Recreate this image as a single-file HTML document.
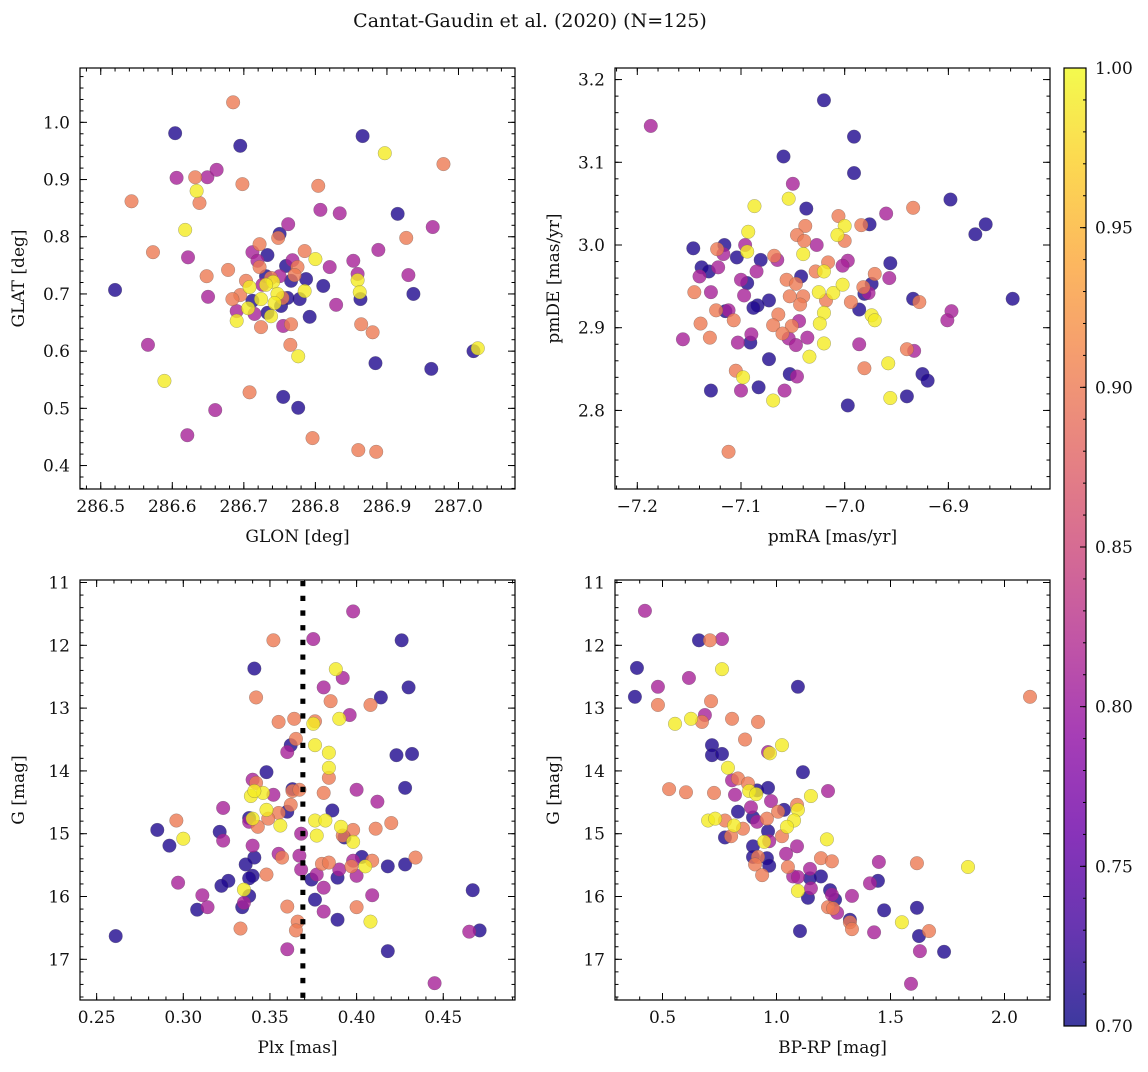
<!DOCTYPE html>
<html><head><meta charset="utf-8"><style>
html,body{margin:0;padding:0;background:#fff;}
svg text{font-family:"DejaVu Serif","Liberation Serif",serif;fill:#111;}
</style></head><body>
<svg id="fig" width="1148" height="1067" viewBox="0 0 1148 1067" xmlns="http://www.w3.org/2000/svg">
<defs>
<linearGradient id="plasma" x1="0" y1="1" x2="0" y2="0">
<stop offset="0" stop-color="#0d0887"/><stop offset="0.1" stop-color="#41049d"/><stop offset="0.2" stop-color="#6a00a8"/><stop offset="0.3" stop-color="#8f0da4"/><stop offset="0.4" stop-color="#b12a90"/><stop offset="0.5" stop-color="#cc4778"/><stop offset="0.6" stop-color="#e16462"/><stop offset="0.7" stop-color="#f2844b"/><stop offset="0.8" stop-color="#fca636"/><stop offset="0.9" stop-color="#fcce25"/><stop offset="1" stop-color="#f0f921"/>
</linearGradient>
</defs>
<text x="530" y="27" font-size="19" text-anchor="middle">Cantat-Gaudin et al. (2020) (N=125)</text>
</svg>
<script>
// ---- Panel 1: GLON vs GLAT ----
const p1Lon=[286.685,286.604,286.695,286.866,286.897,286.979,286.606,286.632,286.649,286.662,286.698,286.634,286.804,286.543,286.638,286.807,286.834,286.915,286.964,286.618,286.927,286.762,286.750,286.748,286.722,286.888,286.573,286.622,286.712,286.733,286.785,286.800,286.853,286.820,286.678,286.648,286.930,286.859,286.859,286.787,286.811,286.862,286.863,286.520,286.937,286.650,286.785,286.778,286.829,286.792,286.864,286.880,286.766,286.755,286.724,286.765,286.776,286.566,287.021,287.027,286.884,286.962,286.589,286.708,286.755,286.776,286.660,286.621,286.796,286.860,286.885,286.708,286.724,286.741,286.747,286.731,286.706,286.690,286.738,286.743,286.703,286.695,286.684,286.722,286.775,286.771,286.738,286.754,286.690,286.715,286.719,286.768,286.750,286.726,286.759,286.766,286.731,286.712,286.752,286.733,286.761];
const p1Lat=[1.035,0.981,0.959,0.976,0.946,0.927,0.903,0.904,0.904,0.917,0.892,0.880,0.889,0.862,0.859,0.847,0.841,0.840,0.817,0.812,0.798,0.822,0.805,0.798,0.787,0.777,0.773,0.764,0.773,0.768,0.775,0.761,0.758,0.747,0.742,0.731,0.733,0.735,0.724,0.726,0.714,0.703,0.691,0.707,0.700,0.695,0.705,0.691,0.681,0.660,0.647,0.633,0.647,0.644,0.642,0.611,0.591,0.611,0.600,0.605,0.579,0.569,0.548,0.528,0.520,0.501,0.497,0.453,0.448,0.427,0.424,0.712,0.691,0.721,0.700,0.716,0.675,0.653,0.661,0.684,0.723,0.698,0.691,0.747,0.747,0.733,0.728,0.693,0.670,0.665,0.758,0.759,0.731,0.716,0.749,0.723,0.731,0.688,0.679,0.667,0.693];
const p1Prob=[0.90,0.71,0.71,0.71,0.99,0.90,0.81,0.90,0.81,0.81,0.90,0.99,0.90,0.90,0.90,0.81,0.81,0.71,0.81,0.99,0.90,0.81,0.71,0.90,0.90,0.81,0.90,0.81,0.81,0.71,0.90,0.99,0.81,0.81,0.90,0.90,0.81,0.81,0.99,0.71,0.71,0.99,0.71,0.71,0.71,0.81,0.99,0.71,0.81,0.71,0.90,0.90,0.90,0.81,0.90,0.90,0.99,0.81,0.71,0.99,0.71,0.71,0.99,0.90,0.71,0.71,0.81,0.81,0.90,0.90,0.90,0.99,0.99,0.99,0.99,0.99,0.99,0.99,0.99,0.99,0.90,0.90,0.90,0.90,0.90,0.90,0.90,0.90,0.81,0.81,0.81,0.81,0.81,0.81,0.71,0.71,0.71,0.71,0.71,0.71,0.71];
const p1XTicks=[286.5,286.6,286.7,286.8,286.9,287.0];
const p1XLabels=["286.5","286.6","286.7","286.8","286.9","287.0"];
const p1YTicks=[0.4,0.5,0.6,0.7,0.8,0.9,1.0];
const p1YLabels=["0.4","0.5","0.6","0.7","0.8","0.9","1.0"];
// ---- Panel 2: pmRA vs pmDE ----
const p2RA=[-7.187,-7.020,-6.991,-7.059,-6.991,-7.050,-7.054,-7.087,-7.037,-6.898,-6.934,-6.960,-7.006,-7.000,-6.984,-6.976,-6.864,-6.874,-7.093,-7.038,-7.046,-7.039,-7.007,-7.000,-7.027,-7.146,-7.116,-7.123,-7.117,-7.096,-7.094,-7.104,-7.081,-7.068,-7.065,-7.040,-7.138,-7.131,-7.122,-7.140,-7.085,-7.028,-7.020,-7.016,-6.997,-7.002,-6.956,-6.971,-6.957,-7.042,-7.100,-7.094,-7.056,-7.047,-7.145,-7.129,-7.097,-7.073,-7.084,-7.088,-7.053,-7.040,-7.043,-7.025,-7.011,-7.002,-7.018,-6.994,-6.982,-6.977,-6.981,-6.974,-6.986,-6.934,-6.928,-6.838,-6.897,-6.901,-7.124,-7.115,-7.112,-7.107,-7.139,-7.130,-7.156,-7.064,-7.069,-7.051,-7.044,-7.060,-7.054,-7.047,-7.036,-7.020,-7.024,-7.020,-6.974,-6.971,-6.986,-7.103,-7.090,-7.091,-7.073,-7.034,-6.940,-6.933,-6.958,-6.981,-6.925,-6.920,-7.105,-7.098,-7.053,-7.046,-7.129,-7.100,-7.083,-7.058,-7.069,-6.956,-6.940,-6.997,-7.112];
const p2DE=[3.144,3.175,3.131,3.107,3.087,3.074,3.056,3.047,3.044,3.055,3.045,3.038,3.035,3.023,3.024,3.025,3.025,3.013,3.016,3.023,3.012,3.005,3.012,3.005,3.000,2.996,3.000,2.995,2.989,3.000,2.992,2.985,2.982,2.987,2.982,2.989,2.973,2.968,2.973,2.962,2.968,2.968,2.968,2.979,2.981,2.975,2.978,2.965,2.960,2.962,2.958,2.954,2.958,2.953,2.943,2.943,2.939,2.933,2.927,2.924,2.938,2.938,2.928,2.943,2.942,2.952,2.933,2.931,2.949,2.942,2.941,2.953,2.922,2.935,2.931,2.935,2.920,2.909,2.921,2.920,2.921,2.909,2.905,2.888,2.886,2.916,2.903,2.902,2.908,2.893,2.887,2.879,2.888,2.918,2.905,2.881,2.915,2.909,2.880,2.882,2.892,2.882,2.862,2.865,2.874,2.872,2.857,2.851,2.844,2.836,2.848,2.840,2.844,2.841,2.824,2.824,2.828,2.824,2.812,2.815,2.817,2.806,2.750];
const p2Prob=[0.81,0.71,0.71,0.71,0.71,0.81,0.99,0.99,0.71,0.71,0.90,0.81,0.90,0.99,0.90,0.71,0.71,0.71,0.99,0.90,0.90,0.90,0.99,0.90,0.81,0.71,0.71,0.90,0.81,0.81,0.99,0.71,0.71,0.90,0.81,0.99,0.71,0.71,0.81,0.81,0.81,0.90,0.99,0.90,0.81,0.81,0.71,0.90,0.81,0.71,0.81,0.71,0.90,0.90,0.90,0.81,0.81,0.71,0.71,0.71,0.90,0.90,0.90,0.99,0.99,0.99,0.90,0.90,0.90,0.81,0.71,0.71,0.71,0.71,0.90,0.71,0.81,0.81,0.90,0.71,0.81,0.90,0.90,0.90,0.81,0.90,0.90,0.90,0.81,0.90,0.81,0.81,0.81,0.99,0.99,0.99,0.99,0.99,0.81,0.81,0.81,0.71,0.71,0.99,0.90,0.81,0.99,0.90,0.71,0.71,0.90,0.99,0.71,0.81,0.71,0.81,0.71,0.81,0.99,0.99,0.71,0.71,0.90];
const p2XTicks=[-7.2,-7.1,-7.0,-6.9];
const p2XLabels=["\u22127.2","\u22127.1","\u22127.0","\u22126.9"];
const p2YTicks=[2.8,2.9,3.0,3.1,3.2];
const p2YLabels=["2.8","2.9","3.0","3.1","3.2"];
// ---- Panel 3: Plx vs G ----
const p3Plx=[.398,.352,.375,.426,.341,.388,.392,.381,.430,.342,.414,.385,.408,.396,.390,.355,.364,.376,.375,.365,.362,.360,.376,.384,.423,.432,.384,.384,.348,.340,.342,.428,.400,.381,.363,.367,.363,.339,.346,.341,.352,.323,.412,.348,.355,.360,.362,.386,.296,.338,.338,.340,.349,.343,.356,.376,.382,.420,.285,.391,.398,.411,.321,.368,.377,.392,.393,.300,.323,.398,.292,.340,.341,.355,.357,.367,.403,.434,.380,.384,.398,.409,.336,.418,.428,.405,.397,.390,.368,.348,.340,.338,.377,.389,.400,.374,.326,.322,.297,.381,.335,.338,.311,.409,.467,.376,.335,.334,.308,.314,.360,.400,.381,.408,.389,.366,.365,.333,.261,.465,.471,.360,.418,.445];
const p3G=[11.46,11.92,11.90,11.92,12.37,12.38,12.52,12.67,12.67,12.83,12.83,12.89,12.95,13.11,13.17,13.22,13.17,13.21,13.25,13.49,13.59,13.70,13.59,13.71,13.75,13.73,13.95,14.11,14.02,14.14,14.19,14.27,14.30,14.35,14.32,14.30,14.29,14.40,14.35,14.32,14.38,14.59,14.49,14.62,14.67,14.65,14.54,14.63,14.79,14.75,14.81,14.76,14.76,14.89,14.87,14.79,14.79,14.83,14.94,14.89,14.94,14.92,14.97,15.00,15.03,15.03,15.06,15.08,15.11,15.13,15.19,15.19,15.38,15.32,15.38,15.35,15.37,15.38,15.48,15.46,15.43,15.43,15.49,15.52,15.49,15.52,15.52,15.57,15.57,15.65,15.67,15.71,15.65,15.70,15.67,15.73,15.75,15.83,15.78,15.86,15.89,15.99,15.98,15.98,15.90,16.05,16.10,16.17,16.21,16.17,16.16,16.17,16.24,16.40,16.37,16.40,16.54,16.51,16.63,16.56,16.54,16.84,16.87,17.38];
const p3Prob=[0.81,0.90,0.81,0.71,0.71,0.99,0.81,0.81,0.71,0.90,0.71,0.90,0.90,0.81,0.99,0.90,0.90,0.90,0.99,0.90,0.71,0.81,0.99,0.99,0.71,0.71,0.99,0.90,0.71,0.81,0.90,0.71,0.81,0.90,0.90,0.90,0.71,0.99,0.99,0.99,0.81,0.81,0.81,0.99,0.90,0.71,0.90,0.71,0.90,0.71,0.81,0.99,0.90,0.90,0.99,0.99,0.99,0.90,0.71,0.99,0.90,0.90,0.71,0.81,0.99,0.90,0.71,0.99,0.81,0.99,0.71,0.81,0.71,0.81,0.90,0.81,0.71,0.90,0.90,0.90,0.81,0.90,0.71,0.71,0.71,0.99,0.90,0.81,0.81,0.90,0.71,0.71,0.81,0.71,0.81,0.71,0.71,0.71,0.81,0.81,0.99,0.71,0.81,0.81,0.71,0.71,0.81,0.71,0.71,0.81,0.90,0.90,0.81,0.99,0.71,0.90,0.90,0.90,0.71,0.81,0.71,0.81,0.71,0.81];
const p3RefPlx=[0.369];
const p3XTicks=[0.25,0.30,0.35,0.40,0.45];
const p3XLabels=["0.25","0.30","0.35","0.40","0.45"];
const gTicks=[11,12,13,14,15,16,17];
const gLabels=["11","12","13","14","15","16","17"];
// ---- Panel 4: BP-RP vs G ----
const p4BPRP=[.423,.660,.708,.761,.388,.761,.616,.480,1.094,.379,2.112,.713,.480,.686,.625,.555,.673,.805,.919,.862,.717,1.024,.963,.971,.717,.761,.787,1.116,.831,.805,.875,.529,.603,.726,.880,.915,.911,.963,1.226,.818,1.151,.976,.888,1.090,1.094,.831,1.033,1.007,.958,.897,.915,.700,.731,.774,1.077,1.046,.853,.814,.801,.774,.963,1.221,1.024,.968,.946,1.090,.897,1.042,.897,.919,1.195,1.243,1.449,1.616,1.840,.958,.968,.906,1.050,1.147,.937,1.073,1.195,1.094,1.147,1.445,1.410,1.151,1.235,1.094,1.138,1.243,1.331,1.257,1.226,1.248,1.266,1.472,1.616,1.322,1.322,1.331,1.550,1.103,1.428,1.669,1.625,1.629,1.735,1.590];
const p4G=[11.45,11.92,11.92,11.90,12.36,12.38,12.52,12.66,12.66,12.82,12.82,12.89,12.95,13.11,13.17,13.25,13.22,13.17,13.22,13.50,13.59,13.59,13.70,13.72,13.75,13.73,13.95,14.02,14.12,14.15,14.20,14.29,14.34,14.35,14.32,14.31,14.37,14.27,14.32,14.38,14.40,14.48,14.58,14.54,14.62,14.65,14.62,14.65,14.76,14.74,14.81,14.79,14.76,14.79,14.79,14.89,14.92,14.87,15.04,15.06,14.96,15.09,15.04,15.12,15.13,15.20,15.20,15.32,15.37,15.37,15.39,15.44,15.45,15.47,15.53,15.39,15.51,15.49,15.53,15.56,15.66,15.68,15.68,15.69,15.71,15.75,15.79,15.87,15.90,15.91,16.02,15.97,15.99,16.05,16.17,16.19,16.26,16.22,16.18,16.37,16.41,16.52,16.41,16.55,16.57,16.55,16.63,16.87,16.88,17.39];
const p4Prob=[0.81,0.71,0.90,0.81,0.71,0.99,0.81,0.81,0.71,0.71,0.90,0.90,0.90,0.81,0.99,0.99,0.90,0.90,0.90,0.90,0.71,0.99,0.81,0.99,0.71,0.71,0.99,0.71,0.90,0.81,0.90,0.90,0.90,0.90,0.99,0.71,0.99,0.71,0.81,0.81,0.99,0.81,0.81,0.90,0.99,0.71,0.71,0.90,0.90,0.71,0.81,0.99,0.99,0.90,0.99,0.99,0.90,0.99,0.90,0.71,0.71,0.99,0.90,0.81,0.99,0.81,0.71,0.81,0.71,0.90,0.90,0.90,0.81,0.90,0.99,0.71,0.71,0.90,0.90,0.81,0.90,0.81,0.71,0.81,0.71,0.71,0.81,0.81,0.71,0.99,0.71,0.81,0.81,0.71,0.90,0.90,0.81,0.71,0.71,0.71,0.90,0.90,0.99,0.71,0.81,0.90,0.71,0.81,0.71,0.81];
const p4XTicks=[0.5,1.0,1.5,2.0];
const p4XLabels=["0.5","1.0","1.5","2.0"];
// ---- Colorbar ----
const cbTicks=[0.70,0.75,0.80,0.85,0.90,0.95,1.00];
const cbLabels=["0.70","0.75","0.80","0.85","0.90","0.95","1.00"];

const NS="http://www.w3.org/2000/svg";
const svg=document.getElementById('fig');
function mk(tag,attrs,parent){const e=document.createElementNS(NS,tag);for(const k in attrs)e.setAttribute(k,attrs[k]);(parent||svg).appendChild(e);return e;}
const plasmaStops=[[13,8,135],[65,4,157],[106,0,168],[143,13,164],[177,42,144],[204,71,120],[225,100,98],[242,132,75],[252,166,54],[252,206,37],[240,249,33]];
function plasma(t){t=Math.max(0,Math.min(1,t));const f=t*10;const i=Math.min(9,Math.floor(f));const r=f-i;const a=plasmaStops[i],b=plasmaStops[i+1];return 'rgb('+a.map((v,k)=>Math.round(v+(b[k]-v)*r)).join(',')+')';}
const cMin=0.70,cMax=1.00;
const FS=17;

function panel(name,box,xlim,ylim,yInv,xT,xL,yT,yL,xMinor,yMinor,xlab,ylab,xs,ys,ps){
  const g=mk('g',{},svg);
  
  
  const sx=v=>box.x0+(v-xlim[0])/(xlim[1]-xlim[0])*(box.x1-box.x0);
  const sy=yInv?(v=>box.y0+(v-ylim[0])/(ylim[1]-ylim[0])*(box.y1-box.y0)):(v=>box.y1-(v-ylim[0])/(ylim[1]-ylim[0])*(box.y1-box.y0));
  const pg=mk('g',{},g);
  
  
  const idx=xs.map((_,i)=>i).sort((a,b)=>ps[a]-ps[b]);
  idx.forEach(i=>{
    const c=mk('circle',{cx:sx(xs[i]),cy:sy(ys[i]),r:6.8,fill:plasma((ps[i]-cMin)/(cMax-cMin)),'fill-opacity':0.8,stroke:'#555','stroke-opacity':0.5,'stroke-width':0.5},pg);
    
    
  });
  const fr=mk('rect',{x:box.x0,y:box.y0,width:box.x1-box.x0,height:box.y1-box.y0,fill:'none',stroke:'#000','stroke-width':1.2},g);
  
  
  const tg=mk('g',{stroke:'#000','stroke-width':1},g);
  function xtick(v,len){const x=sx(v);if(x<box.x0-0.5||x>box.x1+0.5)return;mk('line',{x1:x,x2:x,y1:box.y1,y2:box.y1-len},tg);mk('line',{x1:x,x2:x,y1:box.y0,y2:box.y0+len},tg);}
  function ytick(v,len){const y=sy(v);if(y<box.y0-0.5||y>box.y1+0.5)return;mk('line',{x1:box.x0,x2:box.x0+len,y1:y,y2:y},tg);mk('line',{x1:box.x1,x2:box.x1-len,y1:y,y2:y},tg);}
  const xa=Math.min(xlim[0],xlim[1]),xb=Math.max(xlim[0],xlim[1]);
  for(let v=Math.ceil(xa/xMinor)*xMinor;v<=xb;v+=xMinor)xtick(v,3.5);
  const ya=Math.min(ylim[0],ylim[1]),yb=Math.max(ylim[0],ylim[1]);
  for(let v=Math.ceil(ya/yMinor)*yMinor;v<=yb;v+=yMinor)ytick(v,3.5);
  xT.forEach((v,i)=>{xtick(v,7);const t=mk('text',{x:sx(v),y:box.y1+23,'font-size':FS,'text-anchor':'middle'},g);t.textContent=xL[i];});
  yT.forEach((v,i)=>{ytick(v,7);const t=mk('text',{x:box.x0-10,y:sy(v)+6,'font-size':FS,'text-anchor':'end'},g);t.textContent=yL[i];});
  const xl=mk('text',{x:(box.x0+box.x1)/2,y:box.y1+53,'font-size':FS,'text-anchor':'middle'},g);xl.textContent=xlab;
  
  
  const yx=box.x0-56,yy=(box.y0+box.y1)/2;
  const yl=mk('text',{x:yx,y:yy,'font-size':FS,'text-anchor':'middle',transform:'rotate(-90 '+yx+' '+yy+')'},g);yl.textContent=ylab;
  
  
  return {sx,sy,g};
}

panel('glon-glat-panel',{x0:80,x1:515,y0:68,y1:489},[286.471,287.079],[0.359,1.095],false,p1XTicks,p1XLabels,p1YTicks,p1YLabels,0.02,0.02,'GLON [deg]','GLAT [deg]',p1Lon,p1Lat,p1Prob);
panel('proper-motion-panel',{x0:615,x1:1050,y0:68,y1:489},[-7.2215,-6.802],[2.705,3.214],false,p2XTicks,p2XLabels,p2YTicks,p2YLabels,0.02,0.02,'pmRA [mas/yr]','pmDE [mas/yr]',p2RA,p2DE,p2Prob);
const P3=panel('parallax-magnitude-panel',{x0:80,x1:515,y0:580,y1:1000},[0.2404,0.4914],[10.96,17.648],true,p3XTicks,p3XLabels,gTicks,gLabels,0.01,0.2,'Plx [mas]','G [mag]',p3Plx,p3G,p3Prob);
p3RefPlx.forEach(v=>{
  const l=mk('line',{x1:P3.sx(v),x2:P3.sx(v),y1:581,y2:999,stroke:'#000','stroke-width':5,'stroke-dasharray':'5.3 9.4'},P3.g);
  
  
});
panel('cmd-panel',{x0:615,x1:1050,y0:580,y1:1000},[0.2917,2.1996],[10.96,17.648],true,p4XTicks,p4XLabels,gTicks,gLabels,0.1,0.2,'BP-RP [mag]','G [mag]',p4BPRP,p4G,p4Prob);

(function(){
  const x0=1064,x1=1086,y0=68,y1=1026;
  const g=mk('g',{},svg);
  
  
  mk('rect',{x:x0,y:y0,width:x1-x0,height:y1-y0,fill:'url(#plasma)','fill-opacity':0.8},g);
  mk('rect',{x:x0,y:y0,width:x1-x0,height:y1-y0,fill:'none',stroke:'#000','stroke-width':1.2},g);
  const cy=v=>y1-(v-cMin)/(cMax-cMin)*(y1-y0);
  for(let v=0.70;v<=1.0001;v+=0.01){mk('line',{x1:x1,x2:x1-3,y1:cy(v),y2:cy(v),stroke:'#000','stroke-width':1},g);}
  cbTicks.forEach((v,i)=>{
    mk('line',{x1:x1,x2:x1-6,y1:cy(v),y2:cy(v),stroke:'#000','stroke-width':1},g);
    const t=mk('text',{x:x1+9,y:cy(v)+6,'font-size':FS},g);t.textContent=cbLabels[i];
    
    
  });
})();
</script>
</body></html>
